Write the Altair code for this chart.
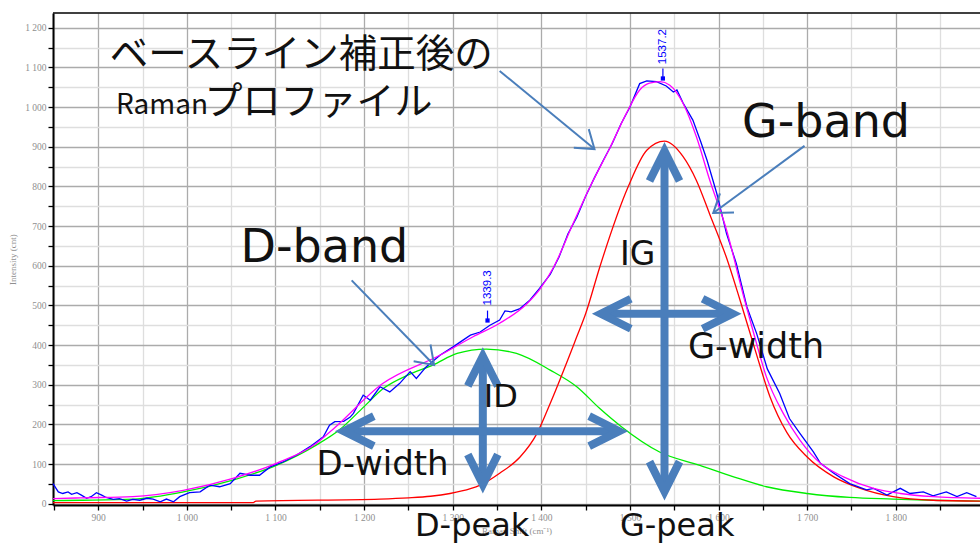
import altair as alt
import pandas as pd

# ---- Raman spectrum (shift in cm^-1, intensity in counts) ----
raw_shift = [849, 855, 860, 866, 870, 876, 881, 887, 892, 898, 904, 909, 917, 924, 932,
             939, 947, 955, 962, 970, 977, 985, 992, 1003, 1015, 1026, 1037, 1049, 1060,
             1071, 1082, 1094, 1109, 1124, 1139, 1154, 1161, 1167, 1177, 1184, 1188, 1199,
             1207, 1218, 1229, 1240, 1252, 1259, 1270, 1286, 1300, 1310, 1320, 1331, 1342,
             1353, 1359, 1366, 1376, 1387, 1398, 1410, 1420, 1430, 1440, 1450, 1460, 1470,
             1480, 1490, 1500, 1511, 1519, 1530, 1541, 1549, 1553, 1560, 1571, 1580, 1587,
             1598, 1609, 1620, 1632, 1643, 1655, 1669, 1680, 1692, 1707, 1715, 1730, 1748,
             1767, 1775, 1790, 1805, 1816, 1831, 1842, 1857, 1869, 1880, 1891]
raw_int = [51, 30, 26, 30, 24, 28, 22, 14, 18, 28, 22, 16, 11, 13, 7,
           11, 9, 14, 12, 5, 12, 5, 18, 28, 30, 47, 43, 51, 77,
           72, 72, 93, 106, 123, 144, 169, 198, 207, 208, 218, 228, 274,
           261, 295, 282, 303, 333, 316, 345, 375, 395, 410, 425, 433, 450,
           463, 486, 484, 492, 513, 543, 578, 622, 680, 722, 775, 822, 866,
           908, 958, 1000, 1059, 1066, 1064, 1053, 1038, 1043, 1010, 967, 912, 866,
           782, 681, 606, 496, 429, 340, 278, 215, 177, 131, 102, 77, 51,
           35, 39, 22, 39, 26, 30, 20, 30, 18, 28, 18]

# fitted profile (sum of both bands)
fit_shift = [849, 880, 939, 996, 1052, 1101, 1146, 1165, 1221, 1286, 1323, 1353, 1384,
             1398, 1414, 1436, 1455, 1478, 1496, 1511, 1522, 1534, 1545, 1560, 1575, 1590,
             1609, 1628, 1639, 1654, 1673, 1692, 1715, 1741, 1775, 1805, 1842, 1895]
fit_int = [13, 15, 18, 34, 64, 102, 152, 188, 303, 375, 421, 455, 505,
           540, 597, 707, 799, 900, 984, 1043, 1060, 1064, 1055, 1009, 925, 816,
           690, 525, 435, 320, 228, 160, 102, 68, 39, 26, 18, 14]

# D band component
d_shift = [849, 880, 940, 996, 1052, 1101, 1146, 1172, 1200, 1222, 1250, 1278, 1305, 1338,
           1372, 1410, 1440, 1466, 1490, 1534, 1579, 1617, 1654, 1700, 1748, 1797, 1842, 1895]
d_int = [8, 9, 12, 30, 60, 97, 148, 186, 245, 291, 325, 350, 379, 390,
         379, 337, 295, 240, 195, 130, 97, 68, 43, 26, 16, 12, 9, 7]

# G band component
g_shift = [849, 1075, 1078, 1218, 1250, 1275, 1297, 1320, 1331, 1353, 1376, 1395, 1410,
           1440, 1450, 1466, 1498, 1519, 1539, 1560, 1575, 1590, 1609, 1624, 1641, 1658,
           1677, 1700, 1730, 1760, 1797, 1842, 1895]
g_int = [3, 3, 7, 12, 15, 19, 26, 38, 47, 77, 118, 177, 253,
         421, 479, 597, 799, 891, 914, 875, 815, 730, 620, 515, 390, 270,
         180, 118, 68, 39, 18, 9, 7]

# axis ticks
x_ticks = [850, 900, 950, 1000, 1050, 1100, 1150, 1200, 1250, 1300, 1350, 1400, 1450,
           1500, 1550, 1600, 1650, 1700, 1750, 1800, 1850]
y_ticks = [0, 50, 100, 150, 200, 250, 300, 350, 400, 450, 500, 550, 600, 650, 700, 750,
           800, 850, 900, 950, 1000, 1050, 1100, 1150, 1200]

# peak position markers
peak_pos = [1339.3, 1537.2]
peak_label = ["1339.3", "1537.2"]
peak_mark = [462, 1072]
peak_stem_top = [487, 1097]
peak_text_at = [500, 1108]

# thin callout arrows (start -> tip) with head orientation in degrees
callout_x1 = [1353, 1697, 1186]
callout_y1 = [1091, 902, 563]
callout_x2 = [1460, 1594, 1279]
callout_y2 = [894, 733, 350]
callout_angle = [129, 234, 135]

# double-headed height / width arrows
dim_x1 = [1539, 1457, 1334, 1167]
dim_y1 = [8, 479, 26, 183]
dim_x2 = [1539, 1626, 1334, 1498]
dim_y2 = [912, 479, 395, 183]

# annotation texts
ann_text = ["G-band", "D-band", "IG", "G-width", "ID", "D-width", "D-peak", "G-peak"]
ann_x = [1626.5, 1060.6, 1488.7, 1565.4, 1335.0, 1146.3, 1257.4, 1488.7]
ann_y = [924.5, 609.4, 601.9, 367.5, 244.7, 72.6, -81, -81]
ann_size = [46, 46, 33, 35, 32, 34, 32, 32]

jp_text = ["ベースライン補正後の", "Raman", "プロファイル"]
jp_x = [913, 920, 1020]
jp_y = [1102, 982, 982]
jp_size = [38.5, 28, 38]

X_DOMAIN = [849, 1895]
Y_DOMAIN = [-3, 1237]
W, H = 927, 492
ARROW_BLUE = "#4a7ebb"
GREY = "#8f8f8f"

xs = alt.Scale(domain=X_DOMAIN, nice=False, zero=False)
ys = alt.Scale(domain=Y_DOMAIN, nice=False, zero=False)

label_expr = "datum.value % 100 === 0 ? replace(format(datum.value, ','), ',', ' ') : ''"
grid_col = {"condition": {"test": "datum.value % 100 === 0", "value": "#ababab"}, "value": "#dedede"}

x_axis = alt.Axis(
    values=x_ticks, labelExpr=label_expr, labelOverlap=False, labelFlush=False,
    grid=True, gridColor=grid_col, gridWidth=1.3,
    domainColor="black", domainWidth=2, tickColor="black", tickWidth=1.3, tickSize=5,
    labelColor=GREY, labelFont="Liberation Serif", labelFontSize=9.5, labelPadding=2,
    title="Raman Shift (cm⁻¹)", titleFont="Liberation Serif", titleFontSize=9,
    titleFontWeight="normal", titleColor=GREY, titlePadding=5,
)
y_axis = alt.Axis(
    values=y_ticks, labelExpr=label_expr, labelOverlap=False, labelFlush=False,
    grid=True, gridColor=grid_col, gridWidth=1.3,
    domainColor="black", domainWidth=2, tickColor="black", tickWidth=1.3, tickSize=5,
    labelColor=GREY, labelFont="Liberation Serif", labelFontSize=9.5, labelPadding=2,
    title="Intensity (cnt)", titleFont="Liberation Serif", titleFontSize=9,
    titleFontWeight="normal", titleColor=GREY, titlePadding=7,
)


def X(field):
    return alt.X(field, scale=xs, axis=x_axis)


def Y(field):
    return alt.Y(field, scale=ys, axis=y_axis)


def curve(xv, yv, color, interp):
    df = pd.DataFrame({"shift": xv, "intensity": yv})
    return alt.Chart(df).mark_line(color=color, strokeWidth=1.3, interpolate=interp).encode(
        x=X("shift:Q"), y=Y("intensity:Q"),
    )


d_line = curve(d_shift, d_int, "#00ee00", "monotone")
g_line = curve(g_shift, g_int, "#ff0000", "monotone")
raw_line = curve(raw_shift, raw_int, "#0000ff", "linear")
fit_line = curve(fit_shift, fit_int, "#ff00ff", "monotone")

# top frame line of the plot area
frame_top = alt.Chart(alt.Data(values=[{}])).mark_rule(color="black", strokeWidth=1.5).encode(
    x=alt.value(0), x2=alt.value(W), y=alt.value(0)
)

# peak markers
peaks = pd.DataFrame({"shift": peak_pos, "label": peak_label, "mark": peak_mark,
                      "stem": peak_stem_top, "text_at": peak_text_at})
peak_stem = alt.Chart(peaks).mark_rule(color="#0000ff", strokeWidth=1.2).encode(
    x=X("shift:Q"), y=Y("mark:Q"), y2="stem:Q"
)
peak_dot = alt.Chart(peaks).mark_point(shape="square", filled=True, size=18, color="#0000ff",
                                       opacity=1).encode(
    x=X("shift:Q"), y=Y("mark:Q")
)
peak_txt = alt.Chart(peaks).mark_text(angle=270, align="left", baseline="middle",
                                      font="Liberation Sans", fontSize=11.5,
                                      color="#0000ff").encode(
    x=X("shift:Q"), y=Y("text_at:Q"), text="label:N",
)

# thin callout arrows
callouts = pd.DataFrame({"x1": callout_x1, "y1": callout_y1, "x2": callout_x2,
                         "y2": callout_y2, "ang": callout_angle})
callout_line = alt.Chart(callouts).mark_rule(color=ARROW_BLUE, strokeWidth=2).encode(
    x=X("x1:Q"), y=Y("y1:Q"), x2="x2:Q", y2="y2:Q",
)
callout_head = alt.Chart(callouts).mark_point(
    shape="M-0.7,1L0,0L0.7,1", filled=False, size=1156, strokeWidth=2,
    color=ARROW_BLUE, opacity=1, strokeJoin="miter",
).encode(
    x=X("x2:Q"), y=Y("y2:Q"), angle=alt.Angle("ang:Q", scale=None),
)

# double-headed dimension arrows: shafts stop short of the tips, heads drawn as chevrons
INSET_X, INSET_Y = 11, 25
shaft_rows, head_rows = [], []
for x1, y1, x2, y2 in zip(dim_x1, dim_y1, dim_x2, dim_y2):
    if x1 == x2:
        shaft_rows.append({"x1": x1, "y1": y1 + INSET_Y, "x2": x2, "y2": y2 - INSET_Y})
        head_rows += [{"x": x1, "y": y1, "ang": 180}, {"x": x2, "y": y2, "ang": 0}]
    else:
        shaft_rows.append({"x1": x1 + INSET_X, "y1": y1, "x2": x2 - INSET_X, "y2": y2})
        head_rows += [{"x": x1, "y": y1, "ang": 270}, {"x": x2, "y": y2, "ang": 90}]

dim_shaft = alt.Chart(pd.DataFrame(shaft_rows)).mark_rule(
    color=ARROW_BLUE, strokeWidth=8, strokeCap="butt").encode(
    x=X("x1:Q"), y=Y("y1:Q"), x2="x2:Q", y2="y2:Q",
)
dim_head = alt.Chart(pd.DataFrame(head_rows)).mark_point(
    shape="M-0.5,1.3L0,0.3L0.5,1.3", filled=False, size=3600, strokeWidth=8,
    color=ARROW_BLUE, opacity=1, strokeJoin="miter", strokeCap="butt",
).encode(
    x=X("x:Q"), y=Y("y:Q"), angle=alt.Angle("ang:Q", scale=None),
)

# text annotations
ann = pd.DataFrame({"t": ann_text, "x": ann_x, "y": ann_y, "s": ann_size})
ann_layer = alt.Chart(ann).mark_text(align="left", baseline="alphabetic", font="DejaVu Sans",
                                     color="#111111").encode(
    x=X("x:Q"), y=Y("y:Q"), text="t:N", size=alt.Size("s:Q", scale=None),
)
jp = pd.DataFrame({"t": jp_text, "x": jp_x, "y": jp_y, "s": jp_size})
jp_layer = alt.Chart(jp).mark_text(align="left", baseline="alphabetic",
                                   font="Noto Sans CJK JP", color="#111111").encode(
    x=X("x:Q"), y=Y("y:Q"), text="t:N", size=alt.Size("s:Q", scale=None),
)

chart = alt.layer(
    d_line, g_line, raw_line, fit_line, frame_top,
    peak_stem, peak_dot, peak_txt,
    callout_line, callout_head,
    dim_shaft, dim_head,
    ann_layer, jp_layer,
).properties(
    width=W, height=H,
    padding={"left": 53, "top": 13, "right": 0, "bottom": 46},
    autosize=alt.AutoSizeParams(type="none"),
    background="white",
).configure_view(stroke=None)

chart.save("out.html", embed_options={"renderer": "svg", "actions": False})
